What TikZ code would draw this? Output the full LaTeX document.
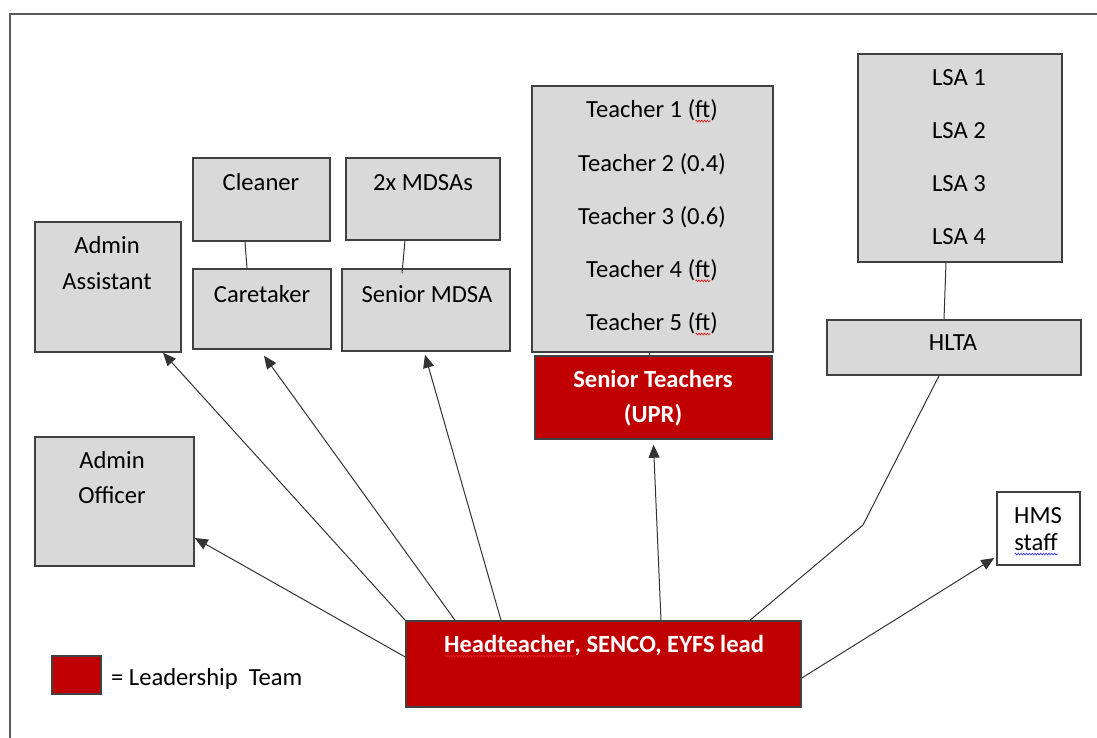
\documentclass[tikz,border=0pt]{standalone}
\usepackage{fontspec}
\setmainfont{Carlito}
\usetikzlibrary{arrows.meta, positioning, decorations.pathmorphing}
\definecolor{boxgrey}{RGB}{217,217,217}
\definecolor{edgegrey}{RGB}{64,64,64}
\definecolor{leadred}{RGB}{192,0,0}
\definecolor{framegrey}{RGB}{90,90,90}
\definecolor{squigred}{RGB}{230,30,30}
\definecolor{squigblue}{RGB}{60,60,230}
\newcommand{\squiggle}[2]{\setbox0\hbox{#2}\rlap{\raisebox{-2.2pt}{\tikz\draw[#1, line width=0.35pt, decorate, decoration={zigzag, amplitude=0.45pt, segment length=1.4pt}] (0pt,0pt) -- (\wd0,0pt);}}\box0}

\begin{document}
\begin{tikzpicture}[x=0.5pt, y=-0.5pt,
  every node/.style={font=\fontsize{12.3}{14.8}\selectfont},
  staffbox/.style={draw=edgegrey, fill=boxgrey, line width=0.75pt, inner sep=0pt},
  leadbox/.style={draw=edgegrey, fill=leadred, line width=0.75pt, inner sep=0pt},
  txt/.style={inner sep=0pt, text height=7.9pt, text depth=0pt},
  leadtxt/.style={txt, text=white, font=\fontsize{12.3}{14.8}\selectfont\bfseries},
  plainlink/.style={draw=black!80, line width=0.5pt},
  linearrow/.style={plainlink, -{Triangle[length=6.5pt,width=5.5pt]}}]
  \useasboundingbox (0,0) rectangle (1097,738);
  \draw[framegrey, line width=0.65pt] (10,738) -- (10,14) -- (1097,14);

  \node[staffbox, minimum width=73pt, minimum height=65pt] (aa) at (108,287) {};
  \node[staffbox, minimum width=68.5pt, minimum height=41.5pt] (cl) at (261.5,199.5) {};
  \node[staffbox, minimum width=69pt, minimum height=40pt] (ct) at (262,309) {};
  \node[staffbox, minimum width=77pt, minimum height=41pt] (md) at (423,199) {};
  \node[staffbox, minimum width=84pt, minimum height=41pt] (sm) at (426,310) {};
  \node[staffbox, minimum width=120.5pt, minimum height=133pt] (te) at (652.5,219) {};
  \node[leadbox, minimum width=118.5pt, minimum height=41.5pt] (st) at (653.5,397.5) {};
  \node[staffbox, minimum width=102pt, minimum height=104pt] (ls) at (960,158) {};
  \node[staffbox, minimum width=127pt, minimum height=27.5pt] (hl) at (954,347.5) {};
  \node[staffbox, fill=white, minimum width=41.5pt, minimum height=36.5pt] (hm) at (1038.5,528.5) {};
  \node[staffbox, minimum width=79.5pt, minimum height=64.5pt] (ao) at (114.5,501.5) {};
  \node[leadbox, minimum width=197.5pt, minimum height=43pt] (ht) at (603.5,664) {};
  \node[leadbox, minimum width=24.5pt, minimum height=19pt] (lg) at (76.5,675) {};

  \node[txt] (aa1) at (107,246) {Admin};
  \node[txt] (aa2) at (107,282) {Assistant};
  \node[txt] (cl1) at (261,183) {Cleaner};
  \node[txt] (ct1) at (262,295) {Caretaker};
  \node[txt] (md1) at (423,183) {2x MDSAs};
  \node[txt] (sm1) at (427,295) {Senior MDSA};
  \foreach \t [count=\i] in {Teacher 1 (\squiggle{squigred}{ft}), Teacher 2 (0.4), Teacher 3 (0.6),
      Teacher 4 (\squiggle{squigred}{ft}), Teacher 5 (\squiggle{squigred}{ft})}
    \node[txt] (te\i) at (652,{110+53.25*(\i-1)}) {\t};
  \node[leadtxt] (st1) at (653,380) {Senior Teachers};
  \node[leadtxt] (st2) at (653,415) {(UPR)};
  \foreach \i in {1,...,4}
    \node[txt] (ls\i) at (959,{78+53*(\i-1)}) {LSA \i};
  \node[txt] (hl1) at (953,343) {HLTA};
  \node[txt] (hm1) at (1038,516) {HMS};
  \node[txt] (hm2) at (1036,543) {\squiggle{squigblue}{staff}};
  \node[txt] (ao1) at (112,461) {Admin};
  \node[txt] (ao2) at (112,496) {Officer};
  \node[leadtxt] (ht1) at (604,645) {\squiggle{squigred}{Headteacher}, SENCO, EYFS lead};
  \node[txt, right=4.5pt of lg, yshift=-1.5pt] (lgtxt) {= Leadership~ Team};

  \draw[plainlink] ([xshift=-8.25pt]cl.south) -- ([xshift=-7.5pt]ct.north);
  \draw[plainlink] ([xshift=-9pt]md.south) -- ([xshift=-12pt,yshift=-2.5pt]sm.north);
  \draw[plainlink] ([xshift=-1.75pt]te.south) -- ([xshift=-2.25pt]st.north);
  \draw[plainlink] ([xshift=-7pt]ls.south) -- ([xshift=-5pt]hl.north);
  \coordinate (hlbend) at (863,525);
  \draw[plainlink] ([xshift=-7.5pt]hl.south) -- (hlbend) -- ([xshift=73.25pt]ht.north);

  \draw[linearrow] (ht.north west) -- ([xshift=27.5pt]aa.south);
  \draw[linearrow] ([xshift=-74.25pt]ht.north) -- ([xshift=1pt,yshift=-3pt]ct.south);
  \draw[linearrow] ([xshift=-51.25pt]ht.north) -- ([xshift=-0.5pt,yshift=-1.5pt]sm.south);
  \draw[linearrow] ([xshift=28.75pt]ht.north) -- ([yshift=-2.5pt]st.south);
  \draw[linearrow] ([yshift=3.5pt]ht.west) -- ([yshift=-18.25pt]ao.east);
  \draw[linearrow] ([yshift=-7pt]ht.east) -- ([xshift=-1pt,yshift=-14.75pt]hm.west);
\end{tikzpicture}
\end{document}
